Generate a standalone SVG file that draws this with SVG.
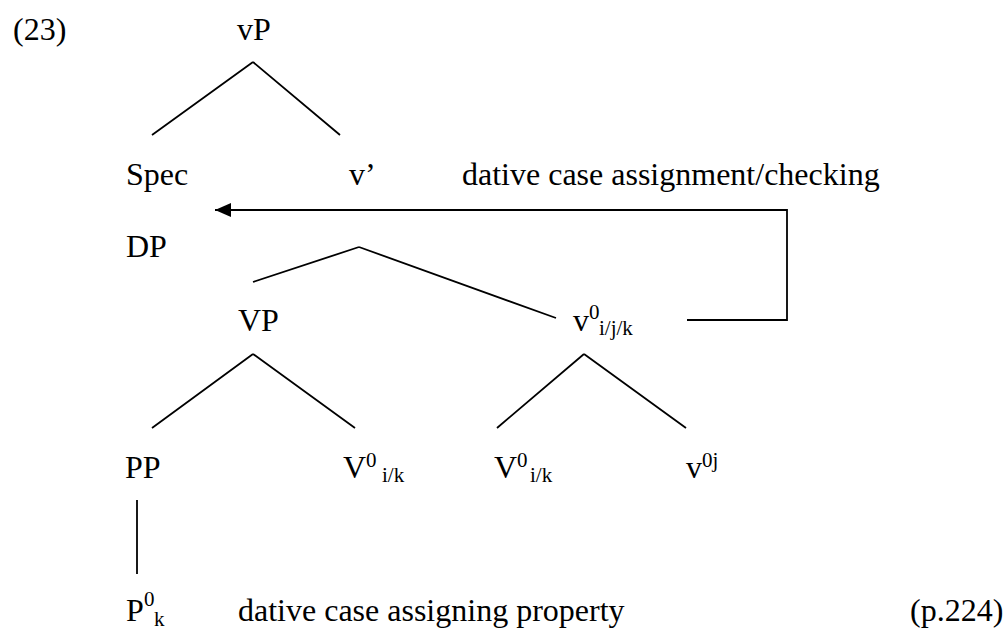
<svg xmlns="http://www.w3.org/2000/svg" width="1008" height="630" viewBox="0 0 1008 630">
<style>
.t{font-family:'Liberation Serif','Times New Roman','DejaVu Serif',serif;fill:#000}
.m{font-size:32px}
.s{font-size:21px}
.ln{stroke:#000;stroke-width:1.8;fill:none}
</style>
<defs>
<marker id="ah" markerUnits="userSpaceOnUse" markerWidth="18" markerHeight="16" refX="16" refY="7" orient="auto">
<path d="M0,0 L16,7 L0,14 Z" fill="#000"/>
</marker>
</defs>
<rect width="1008" height="630" fill="#fff"/>
<g id="connectors">
<path class="ln" d="M253,62 L152,135 M253,62 L340,135"/>
<path class="ln" d="M359,247 L253,282 M359,247 L556,318"/>
<path class="ln" d="M253,354 L152,428 M253,354 L355,428"/>
<path class="ln" d="M584,354 L497,428 M584,354 L686,428"/>
<path class="ln" d="M137,500 L137,574"/>
<path class="ln" d="M687,320 L787,320 L787,210 L215,210" marker-end="url(#ah)"/>
</g>
<g class="t" font-family="Liberation Serif, Times New Roman, DejaVu Serif, serif">
<g id="ex-num"><text class="m" x="13" y="40">(23)</text></g>
<g id="vP"><text class="m" x="237" y="40">vP</text></g>
<g id="spec"><text class="m" x="126" y="185">Spec</text></g>
<g id="vbar"><text class="m" x="349" y="185">v’</text></g>
<g id="label-checking"><text class="m" x="462" y="185">dative case assignment/checking</text></g>
<g id="DP"><text class="m" x="126" y="257">DP</text></g>
<g id="VP"><text class="m" x="238" y="331">VP</text></g>
<g id="v0ijk">
<text class="m" x="573" y="331">v</text>
<text class="s" x="589" y="319">0</text>
<text class="s" x="599" y="335">i/j/k</text>
</g>
<g id="PP"><text class="m" x="125" y="478">PP</text></g>
<g id="V0ik-1">
<text class="m" x="343" y="478">V</text>
<text class="s" x="366" y="467">0</text>
<text class="s" x="382" y="482">i/k</text>
</g>
<g id="V0ik-2">
<text class="m" x="494" y="478">V</text>
<text class="s" x="517" y="467">0</text>
<text class="s" x="530" y="482">i/k</text>
</g>
<g id="v0j">
<text class="m" x="686" y="478">v</text>
<text class="s" x="702" y="467">0j</text>
</g>
<g id="P0k">
<text class="m" x="126" y="621">P</text>
<text class="s" x="144" y="606">0</text>
<text class="s" x="154" y="626">k</text>
</g>
<g id="label-property"><text class="m" x="238" y="621">dative case assigning property</text></g>
<g id="page"><text class="m" x="910" y="621">(p.224)</text></g>
</g>
</svg>
